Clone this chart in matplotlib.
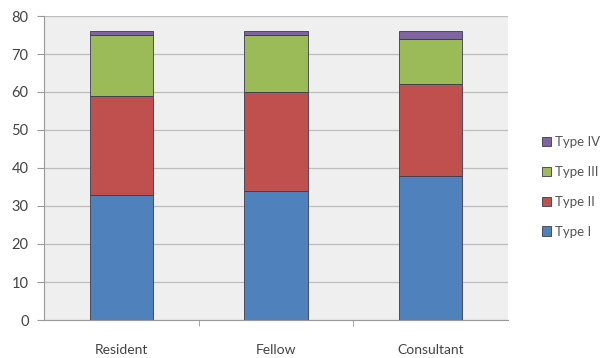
import matplotlib
matplotlib.use("Agg")
import matplotlib.pyplot as plt
import numpy as np

categories = ["Resident", "Fellow", "Consultant"]
type_i = [33, 34, 38]
type_ii = [26, 26, 24]
type_iii = [16, 15, 12]
type_iv = [1, 1, 2]
series_names = ["Type I", "Type II", "Type III", "Type IV"]
colors = ["#4F81BD", "#C0504D", "#9BBB59", "#8064A2"]
yticks = [0, 10, 20, 30, 40, 50, 60, 70, 80]

plt.rcParams["font.family"] = ["Lato", "DejaVu Sans"]

fig = plt.figure(figsize=(6.04, 3.58), dpi=100)
ax = fig.add_axes([44 / 604, 1 - 320 / 358, 464 / 604, 304 / 358])
ax.set_facecolor("#EFEFEF")

x = np.arange(len(categories))
bottom = np.zeros(len(categories))
handles = []
for vals, name, col in zip([type_i, type_ii, type_iii, type_iv], series_names, colors):
    b = ax.bar(x, vals, width=0.41, bottom=bottom, color=col,
               edgecolor="#3a3a50", linewidth=0.6, label=name, zorder=3)
    handles.append(b)
    bottom += np.array(vals)

ax.set_xlim(-0.5, 2.5)
ax.set_ylim(0, 80)
ax.set_yticks(yticks)
ax.yaxis.grid(True, color="#BDBDBD", linewidth=0.9, zorder=0)
ax.set_xticks(x)
ax.set_xticklabels(categories, fontsize=10, color="#444444")
ax.tick_params(axis="x", length=0, pad=17)
ax.tick_params(axis="y", labelsize=10.5, colors="#444444", length=5, pad=6, color="#999999")
ax.set_xticks([0.5, 1.5], minor=True)
ax.tick_params(axis="x", which="minor", length=4, color="#999999")

for side in ["top", "right"]:
    ax.spines[side].set_visible(False)
ax.spines["left"].set_color("#999999")
ax.spines["bottom"].set_color("#999999")

leg = fig.legend(handles[::-1], series_names[::-1], loc="center left",
                 bbox_to_anchor=(530 / 604, 1 - 187 / 358), frameon=False,
                 fontsize=9.5, handlelength=0.7, handleheight=0.7,
                 handletextpad=0.3, labelspacing=1.35, labelcolor="#555555")

fig.savefig("out.png", dpi=100)
